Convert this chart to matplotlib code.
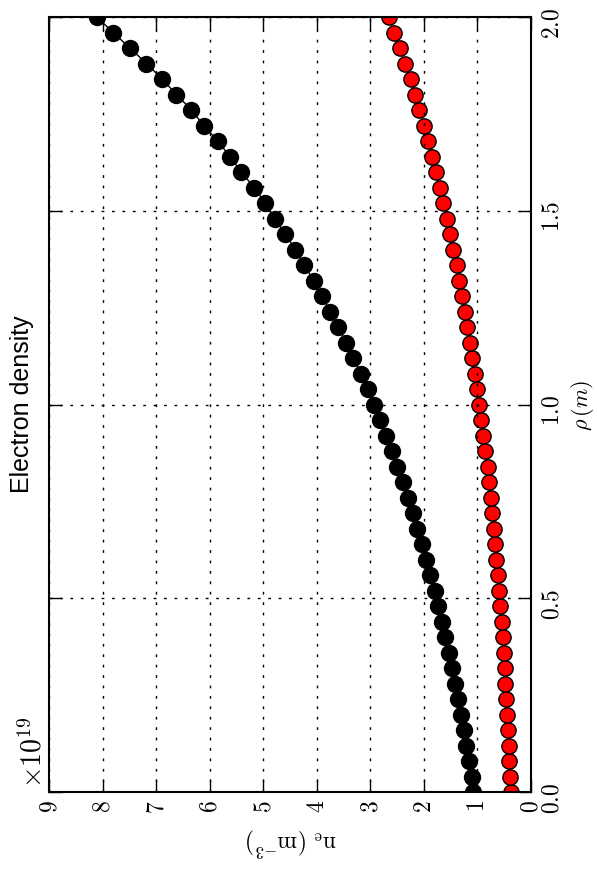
import matplotlib
matplotlib.use("Agg")
import matplotlib.pyplot as plt
from matplotlib.ticker import FuncFormatter, MultipleLocator

plt.rcParams['mathtext.fontset'] = 'cm'

# rho grid (m)
rho = [0.00, 0.04, 0.08, 0.12, 0.16, 0.20, 0.24, 0.28, 0.32, 0.36,
       0.40, 0.44, 0.48, 0.52, 0.56, 0.60, 0.64, 0.68, 0.72, 0.76,
       0.80, 0.84, 0.88, 0.92, 0.96, 1.00, 1.04, 1.08, 1.12, 1.16,
       1.20, 1.24, 1.28, 1.32, 1.36, 1.40, 1.44, 1.48, 1.52, 1.56,
       1.60, 1.64, 1.68, 1.72, 1.76, 1.80, 1.84, 1.88, 1.92, 1.96, 2.00]

# electron density, units of 1e19 m^-3
ne_black = [1.08, 1.11, 1.16, 1.21, 1.26, 1.31, 1.36, 1.41, 1.48, 1.54,
            1.60, 1.66, 1.73, 1.80, 1.89, 1.96, 2.04, 2.12, 2.21, 2.30,
            2.39, 2.50, 2.60, 2.71, 2.82, 2.94, 3.05, 3.18, 3.32, 3.45,
            3.60, 3.75, 3.90, 4.06, 4.23, 4.40, 4.59, 4.78, 4.96, 5.17,
            5.41, 5.62, 5.85, 6.11, 6.34, 6.62, 6.89, 7.18, 7.49, 7.80, 8.11]

ne_red = [0.37, 0.39, 0.41, 0.42, 0.43, 0.45, 0.46, 0.48, 0.49, 0.51,
          0.53, 0.55, 0.57, 0.60, 0.62, 0.65, 0.67, 0.70, 0.72, 0.75,
          0.78, 0.81, 0.85, 0.89, 0.93, 0.98, 1.01, 1.05, 1.10, 1.14,
          1.19, 1.24, 1.29, 1.34, 1.39, 1.45, 1.51, 1.57, 1.64, 1.70,
          1.77, 1.85, 1.92, 2.00, 2.09, 2.17, 2.25, 2.35, 2.45, 2.55, 2.65]

fig = plt.figure(figsize=(5.97, 8.69), dpi=100)
ax = fig.add_axes([49/597, 77/869, 482/597, 775/869])

ax.plot(ne_black, rho, 'o-', color='black', lw=1, ms=11.5, mec='black', mew=1)
ax.plot(ne_red, rho, 'o-', color='red', lw=1, ms=11, mec='black', mew=1)

ax.set_xlim(9, 0)
ax.set_ylim(0, 2)
ax.xaxis.set_major_locator(MultipleLocator(1))
ax.yaxis.set_major_locator(MultipleLocator(0.5))
ax.xaxis.set_major_formatter(FuncFormatter(lambda v, p: '$%d$' % round(v)))
ax.yaxis.set_major_formatter(FuncFormatter(lambda v, p: '$%.1f$' % v))

ax.yaxis.tick_right()
ax.tick_params(direction='in', length=9, width=1, top=True, bottom=True,
               left=True, right=True, labelsize=17, pad=6)
for lab in ax.get_xticklabels():
    lab.set_rotation(90)
for lab in ax.get_yticklabels():
    lab.set_rotation(90)

for s in ax.spines.values():
    s.set_linewidth(1.5)

ax.set_axisbelow(False)
ax.grid(True, color='black', lw=1, linestyle=(0, (2, 5.5)))

# axis labels, placed by hand because the whole chart is turned on its side
fig.text(291/597, 1 - 842/869, r'$\mathrm{n_e\ (m^{-3})}$', fontsize=17,
         rotation=180, ha='center', va='center')
fig.text(583/597, 1 - 405/869, r'$\rho\,(m)$', fontsize=16,
         rotation=90, ha='center', va='center')

ax.text(-0.055, 0.5, 'Electron density', transform=ax.transAxes, rotation=90,
        ha='center', va='center', fontsize=18, family='Liberation Sans')
ax.text(-0.033, 0.005, r'$\times10^{19}$', transform=ax.transAxes, rotation=90,
        ha='center', va='bottom', fontsize=20)

fig.savefig('out.png', dpi=100)
